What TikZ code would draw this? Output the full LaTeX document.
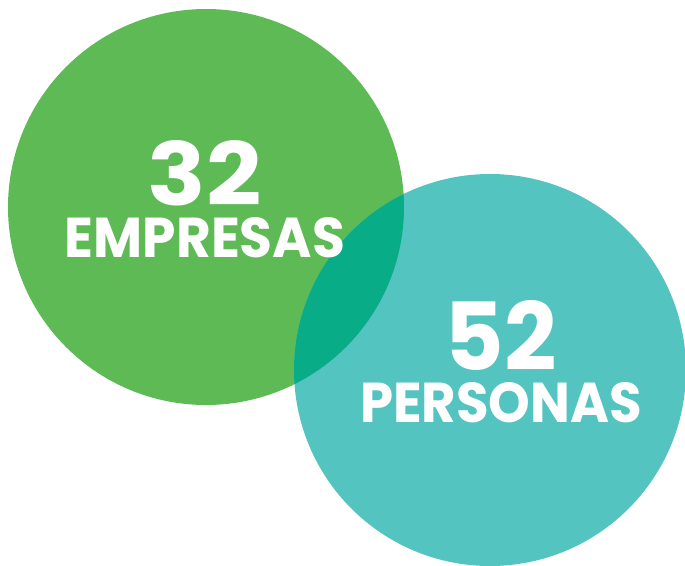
\documentclass[tikz,border=0pt]{standalone}
\usepackage{fontspec}
\setmainfont{Poppins}
\usepackage{graphicx}
\definecolor{leafgreen}{HTML}{5DBA55}
\definecolor{seateal}{HTML}{54C4C1}
\definecolor{overlapgreen}{HTML}{08AD88}
\begin{document}
\begin{tikzpicture}[x=1pt,y=-1pt,
  label/.style={text=white,inner sep=0pt,font=\bfseries}]
\useasboundingbox (0,0) rectangle (685,565);
\begin{scope}
\clip (0,0) rectangle (685,565);
% the two circles
\fill[leafgreen] (206,207) circle (198);
\fill[seateal] (490,370) circle (196);
% their common lens
\begin{scope}
\clip (206,207) circle (198);
\fill[overlapgreen] (490,370) circle (196);
\end{scope}
\end{scope}
% figures and captions
\node[label] (n32) at (205,173) {\resizebox{114pt}{65pt}{32}};
\node[label] (emp) at (205,238) {\resizebox{280pt}{40pt}{EMPRESAS}};
\node[label] (n52) at (501,335) {\resizebox{112pt}{70pt}{52}};
\node[label] (per) at (501,403) {\resizebox{282pt}{40pt}{PERSONAS}};
\end{tikzpicture}
\end{document}
